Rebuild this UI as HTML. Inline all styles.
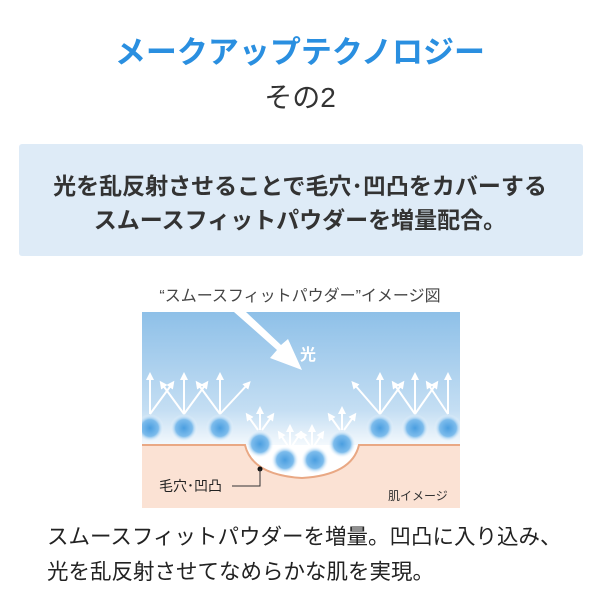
<!DOCTYPE html>
<html><head><meta charset="utf-8"><style>
body{margin:0;width:600px;height:600px;background:#fff;font-family:"Liberation Sans","Noto Sans CJK JP",sans-serif;position:relative;overflow:hidden;color:#333}
.t{position:absolute;left:0;width:600px;text-align:center;white-space:nowrap}
</style></head><body>
<div class="t" style="top:33px;font-size:31px;font-weight:bold;color:#2a8fe0;line-height:40px">メークアップテクノロジー</div>
<div class="t" style="top:80px;font-size:28px;color:#333;line-height:36px">その2</div>
<div style="position:absolute;left:19px;top:144px;width:564px;height:112px;background:#deebf7;border-radius:3px"></div>
<div class="t" style="top:169px;font-size:23px;font-weight:bold;line-height:34px;color:#333">光を乱反射させることで毛穴･凹凸をカバーする<br>スムースフィットパウダーを増量配合。</div>
<div class="t" style="top:282px;font-size:16px;color:#444">“スムースフィットパウダー”イメージ図</div>
<svg style="position:absolute;left:142px;top:312px" width="318" height="196" viewBox="0 0 318 196">
<defs>
<linearGradient id="sky" x1="0" y1="0" x2="0" y2="1"><stop offset="0" stop-color="#8ec0e8"/><stop offset="0.5" stop-color="#c4def3"/><stop offset="0.72" stop-color="#fff"/></linearGradient>
<radialGradient id="dot"><stop offset="0" stop-color="#4a9ee0"/><stop offset="0.6" stop-color="#7dbcec"/><stop offset="1" stop-color="#fff" stop-opacity="0"/></radialGradient>
<marker id="ah" viewBox="0 0 10 10" refX="5" refY="5" markerWidth="8" markerHeight="8" markerUnits="userSpaceOnUse" orient="auto"><path d="M0,0L10,5L0,10z" fill="#fff"/></marker>
</defs>
<rect width="318" height="196" fill="url(#sky)"/>
<rect x="0" y="133" width="318" height="63" fill="#fbe2d4"/>
<path d="M103,133Q110,163 160,166Q210,163 217,133Z" fill="#fff"/>
<path d="M0,133H103Q110,163 160,166Q210,163 217,133H318" fill="none" stroke="#e9a884" stroke-width="2"/>
<g fill="url(#dot)">
<circle cx="8" cy="116" r="14"/><circle cx="42" cy="116" r="14"/><circle cx="78" cy="116" r="14"/>
<circle cx="118" cy="132" r="14"/><circle cx="143" cy="148" r="14"/><circle cx="173" cy="148" r="14"/><circle cx="200" cy="132" r="14"/>
<circle cx="238" cy="116" r="14"/><circle cx="273" cy="116" r="14"/><circle cx="306" cy="116" r="14"/>
</g>
<g stroke="#fff" stroke-width="2" marker-end="url(#ah)">
<line x1="8" y1="102" x2="8" y2="64"/><line x1="8" y1="102" x2="30" y2="72"/>
<line x1="42" y1="102" x2="42" y2="64"/><line x1="42" y1="102" x2="20" y2="72"/><line x1="42" y1="102" x2="64" y2="72"/>
<line x1="78" y1="102" x2="78" y2="64"/><line x1="78" y1="102" x2="56" y2="72"/><line x1="78" y1="102" x2="106" y2="72"/>
<line x1="238" y1="102" x2="212" y2="72"/><line x1="238" y1="102" x2="238" y2="64"/><line x1="238" y1="102" x2="260" y2="72"/>
<line x1="273" y1="102" x2="273" y2="64"/><line x1="273" y1="102" x2="252" y2="72"/><line x1="273" y1="102" x2="294" y2="72"/>
<line x1="306" y1="102" x2="306" y2="64"/><line x1="306" y1="102" x2="286" y2="72"/>
<line x1="118" y1="118" x2="118" y2="98"/><line x1="116" y1="118" x2="106" y2="104"/><line x1="120" y1="118" x2="130" y2="104"/>
<line x1="200" y1="118" x2="200" y2="98"/><line x1="198" y1="118" x2="188" y2="104"/><line x1="202" y1="118" x2="212" y2="104"/>
<line x1="148" y1="134" x2="148" y2="116"/><line x1="146" y1="134" x2="138" y2="122"/><line x1="150" y1="134" x2="158" y2="122"/>
<line x1="170" y1="134" x2="170" y2="116"/><line x1="168" y1="134" x2="160" y2="122"/><line x1="172" y1="134" x2="180" y2="122"/>
</g>
<path d="M92,0L135,38L128,46L160,58L146,27L139,33L104,0Z" fill="#fff"/>
<text x="158" y="48" font-size="16" font-weight="bold" fill="#fff" font-family="Liberation Sans, Noto Sans CJK JP, sans-serif">光</text>
<circle cx="118" cy="157" r="2.5" fill="#111"/>
<polyline points="118,157 118,174 90,174" fill="none" stroke="#333" stroke-width="1"/>
<text x="17" y="179" font-size="14" fill="#222" font-family="Liberation Sans, Noto Sans CJK JP, sans-serif">毛穴･凹凸</text>
<text x="246" y="188" font-size="12" fill="#333" font-family="Liberation Sans, Noto Sans CJK JP, sans-serif">肌イメージ</text>
</svg>
<div style="position:absolute;left:47px;top:520px;font-size:21.5px;line-height:35px;color:#222;white-space:nowrap">スムースフィットパウダーを増量。凹凸に入り込み、<br>光を乱反射させてなめらかな肌を実現。</div>
</body></html>
